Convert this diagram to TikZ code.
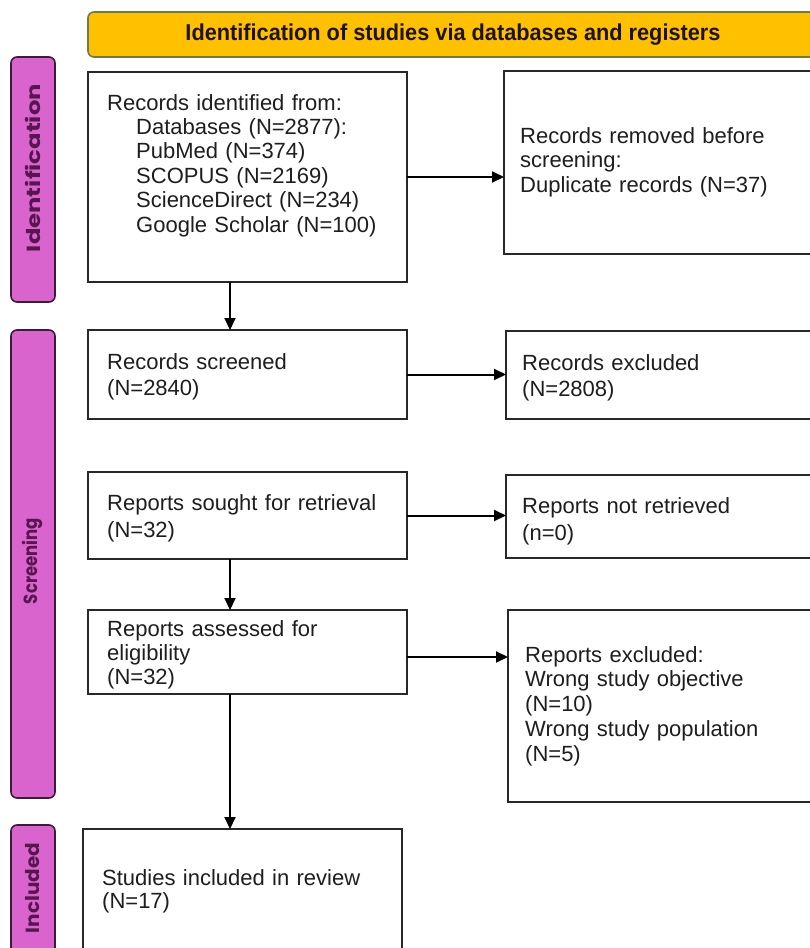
\documentclass[tikz,border=0pt]{standalone}
\usepackage{fontspec}
\setmainfont{Liberation Sans}
\newfontfamily\barfont{Poppins}
\usetikzlibrary{arrows.meta}
\definecolor{gold}{RGB}{255,192,0}
\definecolor{goldline}{RGB}{105,125,75}
\definecolor{orchidfill}{RGB}{218,100,206}
\definecolor{orchidline}{RGB}{60,28,58}
\definecolor{orchidtext}{RGB}{88,22,80}
\definecolor{boxline}{RGB}{40,40,40}
\definecolor{txtcol}{RGB}{30,30,30}
\tikzset{
  box/.style={draw=boxline, line width=2pt, fill=white, inner sep=0pt, outer sep=0pt, anchor=north west, rectangle},
  txt/.style={text=txtcol, anchor=base west, inner sep=0pt, text width=320pt, align=left,
              font=\fontsize{22pt}{24.8pt}\selectfont},
  sidebar/.style={draw=orchidline, line width=1.6pt, fill=orchidfill, rounded corners=6pt, inner sep=0pt, outer sep=0pt, anchor=north west, rectangle, minimum width=44pt},
  barlabel/.style={text=orchidtext, rotate=90, inner sep=0pt, font=\barfont\bfseries\fontsize{19pt}{21pt}\selectfont},
  flow/.style={draw=black, line width=2pt, -{Triangle[length=12pt,width=11pt]}},
}
\begin{document}
\begin{tikzpicture}[x=1pt,y=-1pt]
\useasboundingbox (0,0) rectangle (810,948);
\clip (0,0) rectangle (810,948);
\fill[white] (0,0) rectangle (810,948);

% banner
\node[draw=goldline, line width=1.6pt, fill=gold, rounded corners=6pt, anchor=north west,
      minimum width=730pt, minimum height=45pt, inner sep=0pt, outer sep=0pt,
      text=black!85!brown, font=\fontsize{23pt}{25pt}\selectfont\bfseries] (banner) at (88,12)
      {\scalebox{0.945}[1]{Identification of studies via databases and registers}};

% side bars
\node[sidebar, minimum height=245pt] (idbar) at (11,57) {};
\node[sidebar, minimum height=468pt] (scrbar) at (11,330) {};
\node[sidebar, minimum height=130pt] (incbar) at (11,825) {};
\node[barlabel] (idlab) at (33,168) {\resizebox{168pt}{\height}{Identification}};
\node[barlabel] (scrlab) at (33,561) {\resizebox{86pt}{\height}{Screening}};
\node[barlabel] (inclab) at (33,888) {\resizebox{90pt}{\height}{Included}};

% boxes
\node[box, minimum width=319pt, minimum height=210pt] (id1) at (88,72) {};
\node[box, minimum width=330pt, minimum height=183pt] (rem) at (504,71) {};
\node[box, minimum width=319pt, minimum height=89pt] (scr) at (88,330) {};
\node[box, minimum width=330pt, minimum height=88pt] (exc) at (506,331) {};
\node[box, minimum width=319pt, minimum height=87pt] (sou) at (88,472) {};
\node[box, minimum width=330pt, minimum height=83pt] (nret) at (506,475) {};
\node[box, minimum width=319pt, minimum height=84pt] (ass) at (88,610) {};
\node[box, minimum width=330pt, minimum height=192pt] (rexc) at (508,610) {};
\node[box, minimum width=319pt, minimum height=140pt] (inc) at (83,829) {};

% texts
\node[txt, font=\fontsize{22pt}{24.4pt}\selectfont] (tid1) at (107,110)
  {Records identified from:\\
   \hspace*{29pt}Databases (N=2877):\\
   \hspace*{29pt}PubMed (N=374)\\
   \hspace*{29pt}SCOPUS (N=2169)\\
   \hspace*{29pt}ScienceDirect (N=234)\\
   \hspace*{29pt}Google Scholar (N=100)};
\node[txt] (trem) at (520,143)
  {Records removed before\\ screening:\\ Duplicate records (N=37)};
\node[txt, font=\fontsize{22pt}{26pt}\selectfont] (tscr) at (107,369) {Records screened\\ (N=2840)};
\node[txt, font=\fontsize{22pt}{26pt}\selectfont] (texc) at (522,370) {Records excluded\\ (N=2808)};
\node[txt, font=\fontsize{22pt}{27pt}\selectfont] (tsou) at (107,510) {Reports sought for retrieval\\ (N=32)};
\node[txt, font=\fontsize{22pt}{27pt}\selectfont] (tnret) at (522,513) {Reports not retrieved\\ (n=0)};
\node[txt, font=\fontsize{22pt}{24pt}\selectfont] (tass) at (107,636) {Reports assessed for\\ eligibility\\ (N=32)};
\node[txt] (trexc) at (525,662)
  {Reports excluded:\\ Wrong study objective\\ (N=10)\\ Wrong study population\\ (N=5)};
\node[txt, font=\fontsize{22pt}{23.5pt}\selectfont] (tinc) at (102,885) {Studies included in review\\ (N=17)};

% connectors
\coordinate (vx) at (230,0);
\draw[flow] (id1.east) -- (id1.east -| rem.west);
\draw[flow] (scr.east) -- (scr.east -| exc.west);
\draw[flow] (sou.east) -- (sou.east -| nret.west);
\draw[flow] ([yshift=-5pt]ass.east) -- ([yshift=-5pt]ass.east -| rexc.west);
\draw[flow] (id1.south -| vx) -- (scr.north -| vx);
\draw[flow] (sou.south -| vx) -- (ass.north -| vx);
\draw[flow] (ass.south -| vx) -- (inc.north -| vx);
\end{tikzpicture}
\end{document}
